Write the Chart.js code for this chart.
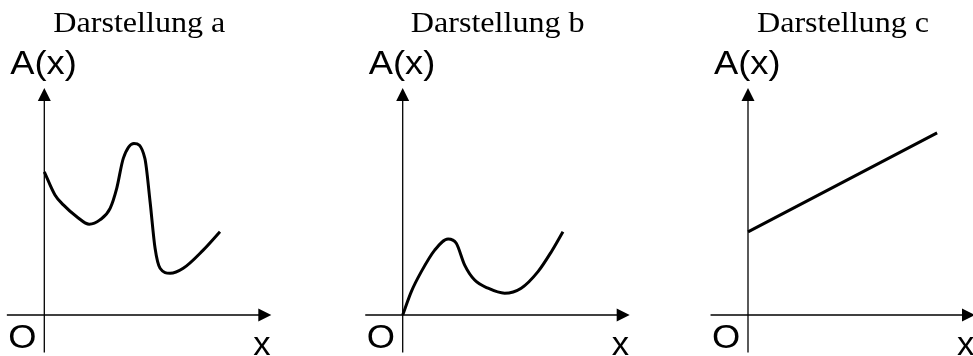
<!DOCTYPE html>
<html>
<head>
<meta charset="utf-8">
<script src="https://cdn.jsdelivr.net/npm/chart.js@4/dist/chart.umd.min.js"></script>
<style>
  html, body { margin: 0; padding: 0; background: #fff; }
  #wrap { position: relative; width: 973px; height: 356px; overflow: hidden; }
  #wrap canvas { position: absolute; top: 0; }
</style>
</head>
<body>
<div id="wrap">
  <canvas id="chartA" width="330" height="356" style="left:0px"></canvas>
  <canvas id="chartB" width="330" height="356" style="left:330px"></canvas>
  <canvas id="chartC" width="313" height="356" style="left:660px"></canvas>
</div>
<script>
'use strict'

// titles and axis texts
var titles = ["Darstellung a", "Darstellung b", "Darstellung c"];
var yAxisLabel = "A(x)";
var xAxisLabel = "x";
var originLabel = "O";

// Darstellung a
var xA = [0, 0.47, 0.84, 1.43, 1.98, 2.45, 2.9, 3.19, 3.48, 3.95, 4.43, 4.66, 4.88, 5.1, 5.54, 6.12, 7.0, 7.74];
var yA = [6.31, 5.29, 4.85, 4.33, 4.0, 4.19, 4.7, 5.58, 6.9, 7.56, 6.9, 4.99, 2.94, 2.06, 1.84, 2.06, 2.86, 3.67];

// Darstellung b
var xB = [0, 0.38, 0.82, 1.41, 2.0, 2.36, 2.73, 3.17, 3.76, 4.49, 5.22, 5.96, 6.55, 7.06];
var yB = [0, 1.03, 1.91, 2.86, 3.35, 3.16, 2.2, 1.54, 1.18, 0.96, 1.18, 1.91, 2.79, 3.67];

// Darstellung c
var xC = [0, 8.33];
var yC = [3.66, 8.02];

// axes run from a bit below zero up to the arrow tip
var axisFrom = -1.65;
var axisTo = 10;

var unit = 22.7; // pixels per unit

function toPoints(xs, ys) {
	return xs.map(function(x, i) { return { x: x, y: ys[i] }; });
}

function stretchedText(ctx, text, px, py, font, sx, align) {
	ctx.save();
	ctx.font = font;
	ctx.textAlign = align || "left";
	ctx.textBaseline = "alphabetic";
	ctx.translate(px, py);
	ctx.scale(sx, 1);
	ctx.fillText(text, 0, 0);
	ctx.restore();
}

var axesPlugin = {
	id: "axes",
	beforeDatasetsDraw: function(chart, args, opts) {
		var ctx = chart.ctx;
		var sx = chart.scales.x, sy = chart.scales.y;
		var ox = sx.getPixelForValue(0), oy = sy.getPixelForValue(0);
		var x0 = sx.getPixelForValue(axisFrom), x1 = sx.getPixelForValue(axisTo);
		var y0 = sy.getPixelForValue(axisFrom), y1 = sy.getPixelForValue(axisTo);

		ctx.save();
		ctx.strokeStyle = "#000";
		ctx.fillStyle = "#000";
		ctx.lineWidth = 1.3;

		// x axis
		ctx.beginPath();
		ctx.moveTo(x0, oy);
		ctx.lineTo(x1 - 10, oy);
		ctx.stroke();
		ctx.beginPath();
		ctx.moveTo(x1, oy);
		ctx.lineTo(x1 - 13, oy - 6.5);
		ctx.lineTo(x1 - 13, oy + 6.5);
		ctx.closePath();
		ctx.fill();

		// y axis
		ctx.beginPath();
		ctx.moveTo(ox, y0);
		ctx.lineTo(ox, y1 + 10);
		ctx.stroke();
		ctx.beginPath();
		ctx.moveTo(ox, y1);
		ctx.lineTo(ox - 6.5, y1 + 13);
		ctx.lineTo(ox + 6.5, y1 + 13);
		ctx.closePath();
		ctx.fill();

		// labels
		stretchedText(ctx, opts.title, ox + 95, 31.7, "30px 'Liberation Serif', 'Times New Roman', serif", 1.07, "center");
		stretchedText(ctx, yAxisLabel, ox - 34, oy - 241.5, "33px 'Liberation Sans', Arial, sans-serif", 1.1);
		stretchedText(ctx, originLabel, ox - 36, oy + 33, "33px 'Liberation Sans', Arial, sans-serif", 1.1);
		stretchedText(ctx, xAxisLabel, ox + 209, oy + 40, "33px 'Liberation Sans', Arial, sans-serif", 1.05);
		ctx.restore();
	}
};

function makeChart(id, xs, ys, title, originPx, width) {
	var canvas = document.getElementById(id);
	return new Chart(canvas.getContext("2d"), {
		type: "scatter",
		data: {
			datasets: [{
				data: toPoints(xs, ys),
				showLine: true,
				borderColor: "#000",
				borderWidth: 3,
				pointRadius: 0,
				fill: false,
				cubicInterpolationMode: "monotone"
			}]
		},
		options: {
			responsive: false,
			animation: false,
			devicePixelRatio: 1,
			layout: { padding: 0 },
			plugins: {
				legend: { display: false },
				tooltip: { enabled: false },
				axes: { title: title }
			},
			scales: {
				x: { type: "linear", display: false, min: -originPx / unit, max: (width - originPx) / unit },
				y: { type: "linear", display: false, min: -41 / unit, max: 315 / unit }
			}
		},
		plugins: [axesPlugin]
	});
}

makeChart("chartA", xA, yA, titles[0], 44.3, 330);
makeChart("chartB", xB, yB, titles[1], 402.7 - 330, 330);
makeChart("chartC", xC, yC, titles[2], 748 - 660, 313);
</script>
</body>
</html>
